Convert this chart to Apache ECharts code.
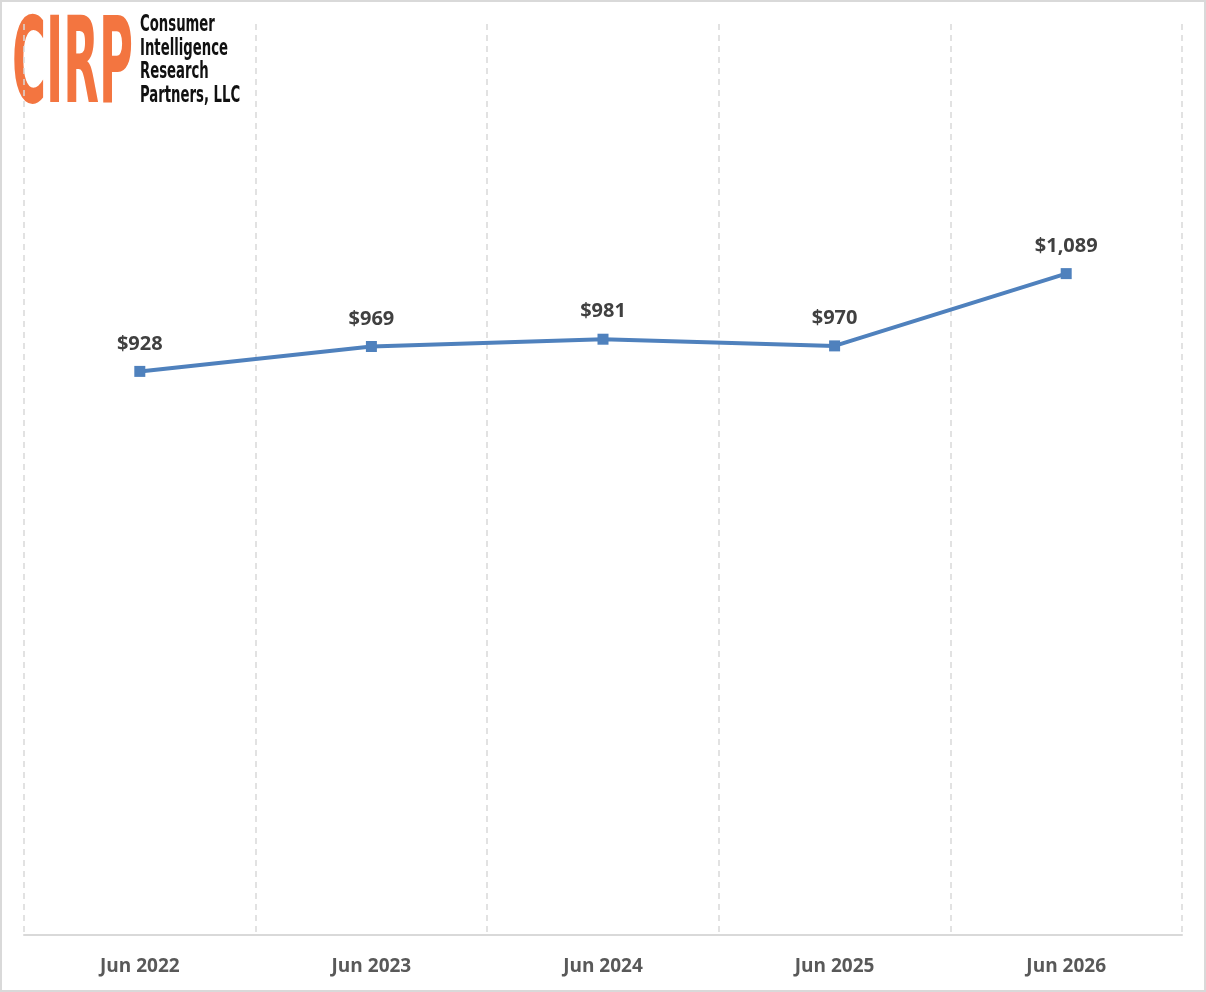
<!DOCTYPE html>
<html>
<head>
<meta charset="utf-8">
<script src="https://cdn.jsdelivr.net/npm/echarts@6/dist/echarts.min.js"></script>
<style>
  html, body { margin: 0; padding: 0; background: #fff; }
  #chart { width: 1206px; height: 992px; box-sizing: border-box; border: 2px solid #d9d9d9; }
</style>
</head>
<body>
<div id="chart"></div>
<script>
// values
var periods = ['Jun 2022', 'Jun 2023', 'Jun 2024', 'Jun 2025', 'Jun 2026'];
var spend = [928, 969, 981, 970, 1089];
var logoLines = ['Consumer', 'Intelligence', 'Research', 'Partners, LLC'];

var chart = echarts.init(document.getElementById('chart'));

// squeeze the big logo word into its box
var logoFont = 'bold 120px "DejaVu Sans Condensed", "DejaVu Sans", sans-serif';
var ctx = document.createElement('canvas').getContext('2d');
ctx.font = logoFont;
var logoScale = 121 / ctx.measureText('CIRP').width;

var logo = [{
    type: 'text',
    x: 10,
    y: 69,
    scaleX: logoScale,
    style: {
        text: 'CIRP',
        font: logoFont,
        fill: '#f37540',
        verticalAlign: 'middle'
    }
}];
logoLines.forEach(function (t, i) {
    logo.push({
        type: 'text',
        left: 138,
        top: 12 + i * 23.5,
        scaleX: 0.64,
        style: {
            text: t,
            font: 'bold 23px "DejaVu Sans Condensed", "DejaVu Sans", sans-serif',
            fill: '#111'
        }
    });
});

var option = {
    animation: false,
    grid: { left: 22, right: 22, top: 22, bottom: 55 },
    xAxis: {
        type: 'category',
        data: periods,
        boundaryGap: true,
        axisLine: { lineStyle: { color: '#d9d9d9', width: 2 } },
        axisTick: { show: false },
        axisLabel: {
            margin: 22,
            color: '#595959',
            fontSize: 19,
            fontWeight: 'bold',
            fontFamily: '"Open Sans", sans-serif'
        },
        splitLine: {
            show: true,
            interval: 0,
            lineStyle: { color: '#d9d9d9', width: 1.5, type: [6, 5] }
        }
    },
    yAxis: {
        type: 'value',
        min: 0,
        max: 1500,
        show: false,
        splitLine: { show: false }
    },
    series: [{
        type: 'line',
        data: spend,
        symbol: 'rect',
        symbolSize: 11,
        lineStyle: { color: '#4f81bd', width: 4 },
        itemStyle: { color: '#4f81bd' },
        label: {
            show: true,
            position: 'top',
            distance: 12,
            color: '#404040',
            fontSize: 20,
            fontWeight: 'bold',
            fontFamily: '"Open Sans", sans-serif',
            formatter: function (p) {
                return '$' + p.value.toLocaleString('en-US');
            }
        }
    }],
    graphic: logo
};
chart.setOption(option);
</script>
</body>
</html>
